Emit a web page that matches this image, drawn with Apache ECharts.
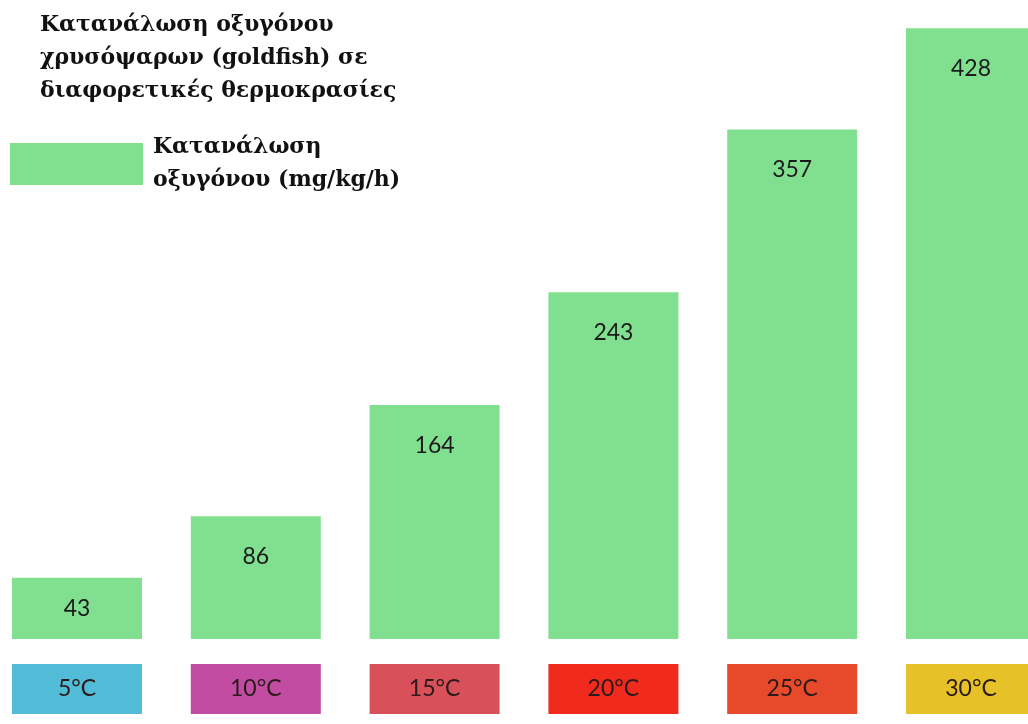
<!DOCTYPE html>
<html>
<head>
<meta charset="utf-8">
<script src="https://cdn.jsdelivr.net/npm/echarts@6/dist/echarts.min.js"></script>
<style>
html,body{margin:0;padding:0;background:#fff;}
#chart{width:1028px;height:724px;}
</style>
</head>
<body>
<div id="chart"></div>
<script>
const categories = ['5°C', '10°C', '15°C', '20°C', '25°C', '30°C'];
const oxygenValues = [43, 86, 164, 243, 357, 428];
const seriesName = 'Κατανάλωση\nοξυγόνου (mg/kg/h)';
const titleText = 'Κατανάλωση οξυγόνου\nχρυσόψαρων (goldfish) σε\nδιαφορετικές θερμοκρασίες';
const categoryColors = ['#52bcd8', '#c24ca2', '#d8505a', '#f02a1c', '#e64a2a', '#e6c228'];

const chart = echarts.init(document.getElementById('chart'));
const rich = {};
categoryColors.forEach((c, i) => {
  rich['c' + i] = {
    backgroundColor: c,
    width: 130,
    height: 50,
    lineHeight: 50,
    align: 'center',
    verticalAlign: 'middle',
    color: '#2a1a1a',
    fontSize: 23,
    fontFamily: 'Lato'
  };
});

chart.setOption({
  backgroundColor: '#ffffff',
  title: {
    text: titleText,
    left: 35,
    top: 4,
    textStyle: {
      fontFamily: 'DejaVu Serif',
      fontWeight: 'bold',
      fontSize: 22,
      lineHeight: 33,
      color: '#111'
    }
  },
  legend: {
    left: 5,
    top: 119,
    itemWidth: 133,
    itemHeight: 42,
    itemGap: 10,
    icon: 'rect',
    selectedMode: false,
    textStyle: {
      fontFamily: 'DejaVu Serif',
      fontWeight: 'bold',
      fontSize: 22,
      lineHeight: 33,
      padding: [14, 0, 0, 5],
      color: '#111'
    },
    data: [seriesName]
  },
  grid: { left: 77, right: 57, top: 11, bottom: 85, outerBoundsMode: 'none', containLabel: false },
  xAxis: {
    type: 'category',
    data: categories,
    boundaryGap: false,
    axisLine: { show: false },
    axisTick: { show: false },
    axisLabel: {
      margin: 25,
      interval: 0,
      formatter: (v, i) => '{c' + i + '|' + v + '}',
      rich: rich
    }
  },
  yAxis: {
    type: 'value',
    min: 0,
    max: 440,
    show: false,
    splitLine: { show: false }
  },
  series: [{
    name: seriesName,
    type: 'bar',
    barWidth: 130,
    itemStyle: { color: '#80e090' },
    label: {
      show: true,
      position: 'insideTop',
      distance: 29,
      color: '#1a1a1a',
      fontSize: 23,
      fontFamily: 'Lato'
    },
    data: oxygenValues.map((v, i) => i === 0 ? { value: v, label: { position: 'inside' } } : v)
  }]
});
</script>
</body>
</html>
